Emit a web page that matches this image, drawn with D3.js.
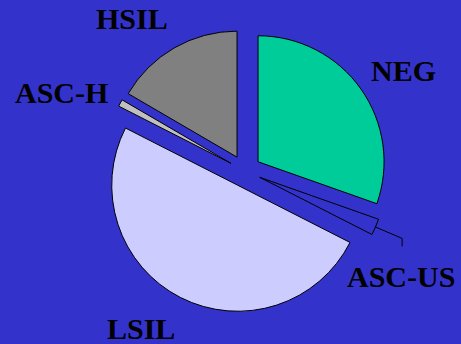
<!DOCTYPE html>
<html>
<head>
<meta charset="utf-8">
<script src="https://cdn.jsdelivr.net/npm/d3@7/dist/d3.min.js"></script>
<style>
  html, body { margin: 0; padding: 0; background: #3333cc; }
  svg { display: block; }
</style>
</head>
<body>
<div id="chart"></div>
<script>
// Cytology result distribution (%)
const categories = ["NEG", "ASC-US", "LSIL", "ASC-H", "HSIL"];
const values = [30.4, 2.1, 50.0, 0.9, 16.6];
const colors = ["#00cc99", "#3333cc", "#ccccff", "#c0c0c0", "#808080"];

// Label anchor points (text start x, baseline y)
const labelPos = {
  "NEG":    [371, 81],
  "ASC-US": [347, 287],
  "LSIL":   [107, 339],
  "ASC-H":  [15, 103],
  "HSIL":   [96, 29]
};

const W = 461, H = 344;
const cx = 245, cy = 171, R = 126, explode = 16;

const svg = d3.select("#chart").append("svg")
  .attr("width", W).attr("height", H);

svg.append("rect").attr("width", W).attr("height", H).attr("fill", "#3333cc");

const pie = d3.pie().sort(null).value(d => d.v).startAngle(0).endAngle(2 * Math.PI);
const arcs = pie(categories.map((c, i) => ({ c, v: values[i], col: colors[i] })));
const arc = d3.arc().innerRadius(0).outerRadius(R);

const g = svg.append("g").attr("transform", `translate(${cx},${cy})`);

function dir(a) { return [Math.sin(a), -Math.cos(a)]; }

g.selectAll("path.slice").data(arcs).join("path")
  .attr("class", "slice")
  .attr("d", arc)
  .attr("fill", d => d.data.col)
  .attr("stroke", "#000")
  .attr("stroke-width", 1)
  .attr("stroke-linejoin", "miter")
  .attr("transform", d => {
    const m = (d.startAngle + d.endAngle) / 2;
    const [ux, uy] = dir(m);
    return `translate(${ux * explode},${uy * explode})`;
  });

// Leader line for the thin ASC-US slice
const us = arcs[1];
const mu = (us.startAngle + us.endAngle) / 2;
const [ux, uy] = dir(mu);
const p1 = [ux * (R + explode), uy * (R + explode)];
const p2 = [ux * (R + explode + 29), uy * (R + explode + 29)];
const p3 = [p2[0], p2[1] + 8];
g.append("path")
  .attr("d", d3.line()([p1, p2, p3]))
  .attr("fill", "none")
  .attr("stroke", "#000")
  .attr("stroke-width", 1);

svg.selectAll("text.lbl").data(categories).join("text")
  .attr("class", "lbl")
  .attr("x", d => labelPos[d][0])
  .attr("y", d => labelPos[d][1])
  .attr("font-family", "'Liberation Serif', 'Times New Roman', serif")
  .attr("font-weight", "bold")
  .attr("font-size", 30)
  .attr("fill", "#000")
  .text(d => d);
</script>
</body>
</html>
